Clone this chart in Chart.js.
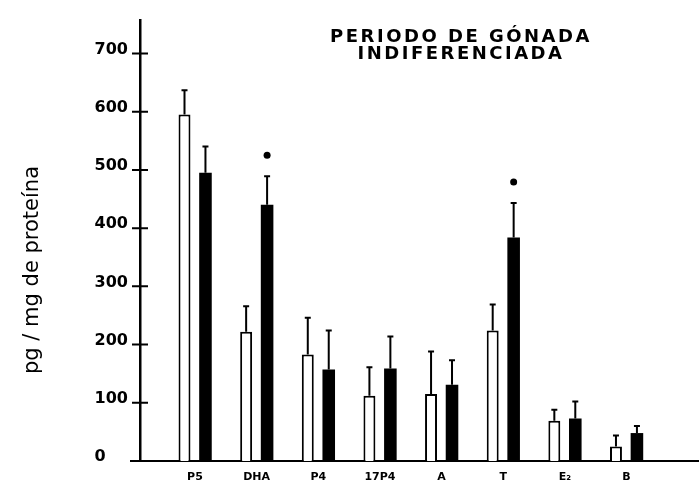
<!DOCTYPE html>
<html>
<head>
<meta charset="utf-8">
<script src="https://cdn.jsdelivr.net/npm/chart.js@4.4.1/dist/chart.umd.min.js"></script>
<style>
  html, body { margin: 0; padding: 0; background: #fff; }
</style>
</head>
<body>
<canvas id="gonadaChart" width="699" height="487"></canvas>
<script>
// Values (pg / mg de proteína)
const steroids = ['P5', 'DHA', 'P4', '17P4', 'A', 'T', 'E₂', 'B'];
const whiteValues = [595, 222, 183, 112, 115, 224, 69, 25];
const whiteErrors = [42, 44, 63, 49, 73, 45, 19, 19];
const blackValues = [495, 440, 157, 159, 131, 384, 73, 48];
const blackErrors = [45, 49, 67, 55, 42, 59, 29, 12];
const blackSignificant = [false, true, false, false, false, true, false, false];
const titleLines = ['PERIODO DE GÓNADA', 'INDIFERENCIADA'];
const yAxisLabel = 'pg / mg de proteína';

const FONT = '"DejaVu Sans", sans-serif';

// error bars, asterisks, crossing ticks, title and axis label
const decorations = {
  id: 'decorations',
  afterDatasetsDraw(chart) {
    const ctx = chart.ctx;
    const yScale = chart.scales.y;
    const errors = [whiteErrors, blackErrors];
    chart.data.datasets.forEach((ds, d) => {
      const meta = chart.getDatasetMeta(d);
      meta.data.forEach((bar, i) => {
        const top = yScale.getPixelForValue(ds.data[i].y + errors[d][i]);
        ctx.save();
        ctx.strokeStyle = '#000';
        ctx.lineWidth = 2;
        ctx.beginPath();
        ctx.moveTo(bar.x, bar.y);
        ctx.lineTo(bar.x, top);
        ctx.moveTo(bar.x - 3, top);
        ctx.lineTo(bar.x + 3, top);
        ctx.stroke();
        if (d === 1 && blackSignificant[i]) {
          ctx.fillStyle = '#000';
          ctx.beginPath();
          ctx.arc(bar.x, top - 21, 3.5, 0, Math.PI * 2);
          ctx.fill();
        }
        ctx.restore();
      });
    });
  },
  afterDraw(chart) {
    const ctx = chart.ctx;
    const area = chart.chartArea;
    const yScale = chart.scales.y;
    ctx.save();
    ctx.strokeStyle = '#000';
    ctx.lineWidth = 2;
    ctx.beginPath();
    yScale.ticks.forEach(t => {
      if (t.value === 0) return;
      const py = yScale.getPixelForValue(t.value);
      ctx.moveTo(area.left - 8, py);
      ctx.lineTo(area.left + 8, py);
    });
    // x axis runs a little left of the y axis
    ctx.moveTo(area.left - 10, area.bottom);
    ctx.lineTo(area.left, area.bottom);
    ctx.stroke();

    ctx.fillStyle = '#000';
    ctx.textAlign = 'center';
    ctx.textBaseline = 'middle';
    ctx.font = 'bold 18px ' + FONT;
    ctx.letterSpacing = '2.5px';
    ctx.fillText(titleLines[0], 461, 37);
    ctx.fillText(titleLines[1], 461, 54);
    ctx.letterSpacing = '0px';

    ctx.translate(33, 270);
    ctx.rotate(-Math.PI / 2);
    ctx.font = '21px ' + FONT;
    ctx.fillText(yAxisLabel, 0, 0);
    ctx.restore();
  }
};

new Chart(document.getElementById('gonadaChart'), {
  type: 'bar',
  data: {
    datasets: [
      {
        label: 'blanco',
        data: steroids.map((s, i) => ({ x: i + 1, y: whiteValues[i] })),
        backgroundColor: '#fff',
        borderColor: '#000',
        borderWidth: 2,
        borderSkipped: 'bottom',
        categoryPercentage: 0.68,
        barPercentage: 0.57
      },
      {
        label: 'negro',
        data: steroids.map((s, i) => ({ x: i + 1, y: blackValues[i] })),
        backgroundColor: '#000',
        borderWidth: 0,
        categoryPercentage: 0.68,
        barPercentage: 0.6
      }
    ]
  },
  options: {
    responsive: false,
    animation: false,
    layout: { padding: { top: 9, left: 0, right: 0, bottom: 0 } },
    plugins: {
      legend: { display: false },
      tooltip: { enabled: false }
    },
    scales: {
      x: {
        type: 'linear',
        offset: false,
        min: 0.108,
        max: 9.177,
        grid: { display: false, drawTicks: false, offset: false },
        border: { color: '#000', width: 2 },
        ticks: {
          stepSize: 1,
          includeBounds: false,
          autoSkip: false,
          maxRotation: 0,
          padding: 10,
          color: '#000',
          font: { family: FONT, weight: 'bold', size: 11 },
          callback: v => steroids[v - 1] || ''
        },
        afterFit: s => { s.height = 26; }
      },
      y: {
        min: 0,
        max: 757.5,
        grid: { display: false, drawTicks: false },
        border: { color: '#000', width: 2.5 },
        ticks: {
          stepSize: 100,
          includeBounds: false,
          padding: 12,
          color: '#000',
          // the printed numbers sit a few pixels above their tick marks
          font: { family: FONT, weight: 'bold', size: 16, lineHeight: '8px' },
          callback: v => [v === 0 ? '0    ' : String(v), '']
        },
        afterFit: s => { s.width = 140; }
      }
    }
  },
  plugins: [decorations]
});
</script>
</body>
</html>
